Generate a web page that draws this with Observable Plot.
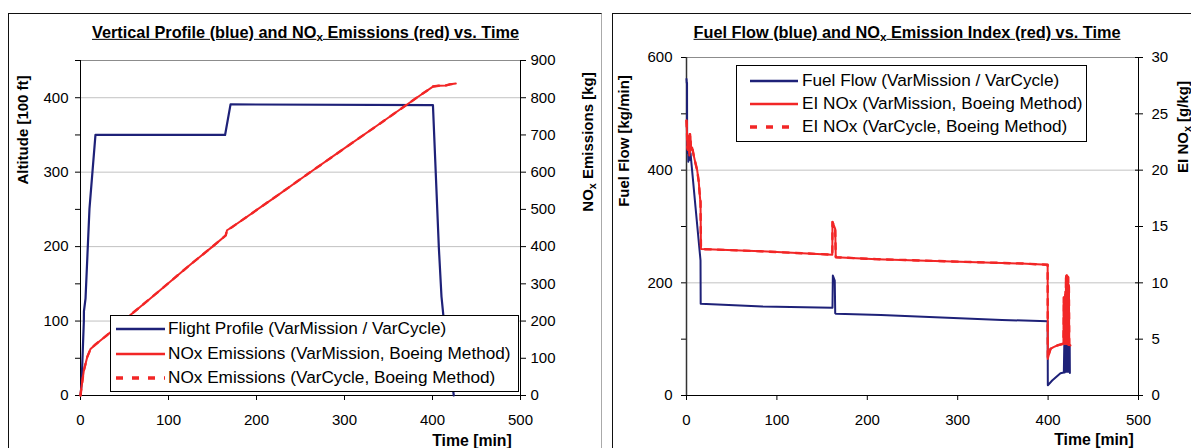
<!DOCTYPE html>
<html><head><meta charset="utf-8">
<script src="https://cdn.jsdelivr.net/npm/d3@7"></script>
<script src="https://cdn.jsdelivr.net/npm/@observablehq/plot@0.6"></script>
<style>
html,body{margin:0;padding:0;background:#fff;}
body{width:1191px;height:448px;overflow:hidden;position:relative;font-family:Arial,"Liberation Sans",Helvetica,sans-serif;}
.frame{position:absolute;border:1px solid #111;box-sizing:border-box;}
.sub{font-size:72%;position:relative;top:0.28em;}
.lg{position:absolute;border:1px solid #000;background:#fff;box-sizing:border-box;}
</style></head><body>
<script>
// ---------- DATA ----------
const timeTicks = [0, 100, 200, 300, 400, 500];
const altTickMarks = [0, 50, 100, 150, 200, 250, 300, 350, 400, 450];
const altTickLabels = [0, 100, 200, 300, 400];
const noxTicks = [0, 100, 200, 300, 400, 500, 600, 700, 800, 900];
const ffTickMarks = [0, 100, 200, 300, 400, 500, 600];
const ffTickLabels = [0, 200, 400, 600];
const eiTicks = [0, 5, 10, 15, 20, 25, 30];

// Left panel: flight profile (altitude, 100 ft) vs time (min)
const profileTime = [0, 1.2, 3.8, 3.9, 5.7, 10.2, 17, 164.3, 170.5, 400.5, 407.2, 410.2, 412.3, 424.2];
const profileAlt  = [0, 15, 100, 113, 130, 251, 350, 350, 391, 390, 199, 133, 108, 0];

// Left panel: cumulative NOx emissions (kg) vs time (min)
const noxTimeMission = [0, 1.1, 3.8, 7.6, 11.4, 17, 30, 57, 79, 125, 150, 165, 166.5, 172, 220, 257, 292, 340, 382, 400.5, 407, 415, 420, 426.5];
const noxKgMission   = [0, 22, 67, 103, 125, 137, 162, 217, 260, 352, 400, 430, 444, 452, 531, 593, 651, 730, 800, 830, 832, 833, 836, 838];
const noxTimeCycle = noxTimeMission;
const noxKgCycle   = noxKgMission;

// Right panel: fuel flow (kg/min) vs time (min)
const ffTime = [0, 0.3, 0.6, 0.7, 1.2, 1.6, 2.0, 2.5, 3.0, 3.5, 4.0, 4.5, 5.2, 10, 15.5, 15.7, 84, 161.5, 161.9, 164, 164.5, 165.5, 215, 349, 399.5, 399.7, 404.5, 413.7, 417.4,
  417.9, 418.4, 418.9, 419.4, 419.9, 420.4, 420.9, 421.4, 421.9, 422.4, 422.9, 423.4, 423.9, 424.1];
const ffValue = [562, 555, 555, 450, 430, 455, 415, 440, 420, 445, 418, 430, 417, 334, 240, 163, 158, 155.6, 213, 204, 146, 145, 143, 134, 132, 18, 26.6, 39.6, 41,
  89, 41, 89, 42, 89, 42, 89, 42, 89, 42, 89, 42, 89, 40];

// Right panel: NOx emission index (g/kg) vs time (min)
const eiTimeMission = [0, 0.5, 1, 1.5, 2, 2.6, 3.2, 3.8, 4.4, 5, 6.3, 8, 10, 11.8, 13.5, 15, 15.5, 16, 82, 161.3, 161.5, 164.5, 165.1, 165.5, 210, 376, 399.5, 399.7, 401, 402.7, 406, 410, 417,
  417.4, 417.8, 418.2, 418.6, 419.0, 419.4, 419.8, 420.2, 420.6, 421.0, 421.4, 421.8, 422.2, 422.6, 423.0, 423.4, 424.7];
const eiValueMission = [24.4, 23.5, 22, 21.8, 22.9, 23, 21.3, 23.2, 23, 21.8, 22, 21.3, 20.6, 20, 19, 17.5, 17.2, 13.0, 12.8, 12.5, 15.4, 14.8, 12.3, 12.27, 12.1, 11.7, 11.6, 3.25, 3.7, 4.14, 4.3, 4.44, 4.6,
  8.7, 4.6, 8.7, 4.6, 9.2, 4.6, 10.6, 4.6, 10.65, 4.6, 10.6, 4.6, 10.5, 4.5, 9.8, 4.5, 4.44];
const eiTimeCycle = eiTimeMission;
const eiValueCycle = eiValueMission;

// ---------- helpers ----------
const BLUE = "#1e2178", RED = "#f22626";
const FONT = "Arial, 'Liberation Sans', Helvetica, sans-serif";
const rows = (ts, vs) => ts.map((t, i) => ({t, v: vs[i]}));
const baseStyle = {fontFamily: FONT, fontSize: "15px", color: "#000", background: "none", overflow: "visible"};

function place(el, left, top) {
  const d = document.createElement("div");
  d.style.cssText = `position:absolute;left:${left}px;top:${top}px;`;
  d.appendChild(el);
  document.body.appendChild(d);
}
function frame(left, top, w, h, extra = "") {
  const d = document.createElement("div");
  d.className = "frame";
  d.style.cssText += `left:${left}px;top:${top}px;width:${w}px;height:${h}px;${extra}`;
  document.body.appendChild(d);
}
function label(html, cx, cy, {size = 15, bold = true, rotate = false, underline = false} = {}) {
  const d = document.createElement("div");
  d.innerHTML = html;
  d.style.cssText = `position:absolute;left:${cx}px;top:${cy}px;white-space:nowrap;font-family:${FONT};font-size:${size}px;font-weight:${bold ? "bold" : "normal"};line-height:1;transform:translate(-50%,-50%)${rotate ? " rotate(-90deg)" : ""};${underline ? "text-decoration:underline;" : ""}color:#000;`;
  document.body.appendChild(d);
}
function legend(left, top, w, h, items, size) {
  const box = document.createElement("div");
  box.className = "lg";
  box.style.cssText += `left:${left}px;top:${top}px;width:${w}px;height:${h}px;`;
  for (const it of items) {
    const svg = document.createElementNS("http://www.w3.org/2000/svg", "svg");
    svg.setAttribute("width", it.x2 - it.x1 + 4);
    svg.setAttribute("height", 10);
    svg.style.cssText = `position:absolute;left:${it.x1 - left - 2}px;top:${it.y - top - 5}px;`;
    const ln = document.createElementNS("http://www.w3.org/2000/svg", "line");
    ln.setAttribute("x1", 2); ln.setAttribute("x2", it.x2 - it.x1 + 2);
    ln.setAttribute("y1", 5); ln.setAttribute("y2", 5);
    ln.setAttribute("stroke", it.color);
    ln.setAttribute("stroke-width", it.width);
    if (it.dash) ln.setAttribute("stroke-dasharray", it.dash);
    svg.appendChild(ln);
    box.appendChild(svg);
    const t = document.createElement("div");
    t.textContent = it.text;
    t.style.cssText = `position:absolute;left:${it.tx - left - 1}px;top:${it.y - top}px;transform:translateY(-50%);white-space:nowrap;font-family:${FONT};font-size:${size}px;line-height:1;color:#000;`;
    box.appendChild(t);
  }
  document.body.appendChild(box);
}

// ---------- panel frames ----------
frame(8, 13, 594, 500, "border-right-color:#aaa;");
frame(612, 13, 620, 500);

// ---------- LEFT PANEL ----------
const L = {width: 605, height: 448, marginLeft: 80, marginRight: 85, marginTop: 60, marginBottom: 53};
const leftBase = Plot.plot({
  ...L,
  x: {domain: [0, 500], label: null},
  y: {domain: [0, 450], label: null},
  style: baseStyle,
  marks: [
    Plot.ruleY(altTickLabels.filter(d => d > 0), {stroke: "#c2c2c2", strokeWidth: 1}),
    Plot.ruleY([450], {stroke: "#8c8c8c"}),
    Plot.axisY(altTickMarks, {tickSize: 5, tickPadding: 7, label: null, tickFormat: d => altTickLabels.includes(d) ? String(d) : ""}),
    Plot.axisX(timeTicks, {tickSize: 5, tickPadding: 14, label: null}),
    Plot.ruleX([0], {stroke: "#000"}),
    Plot.ruleY([0], {stroke: "#000"}),
    Plot.line(rows(profileTime, profileAlt), {x: "t", y: "v", stroke: BLUE, strokeWidth: 2.2})
  ]
});
place(leftBase, 0, 0);

const leftOver = Plot.plot({
  ...L,
  x: {domain: [0, 500], axis: null, label: null},
  y: {domain: [0, 900], label: null},
  style: baseStyle,
  marks: [
    Plot.axisY(noxTicks, {anchor: "right", tickSize: 5, tickPadding: 5, label: null}),
    Plot.ruleX([500], {stroke: "#000"}),
    Plot.line(rows(noxTimeMission, noxKgMission), {x: "t", y: "v", stroke: RED, strokeWidth: 2}),
    Plot.line(rows(noxTimeCycle, noxKgCycle), {x: "t", y: "v", stroke: RED, strokeWidth: 2.4, strokeDasharray: "6,7"})
  ]
});
place(leftOver, 0, 0);

// ---------- RIGHT PANEL ----------
const R = {width: 586, height: 448, marginLeft: 81, marginRight: 53, marginTop: 57, marginBottom: 53};
const rightBase = Plot.plot({
  ...R,
  x: {domain: [0, 500], label: null},
  y: {domain: [0, 600], label: null},
  style: baseStyle,
  marks: [
    Plot.ruleY(ffTickLabels.filter(d => d > 0 && d < 600), {stroke: "#c2c2c2", strokeWidth: 1}),
    Plot.ruleY([600], {stroke: "#8c8c8c"}),
    Plot.axisY(ffTickMarks, {tickSize: 5, tickPadding: 9, label: null, tickFormat: d => ffTickLabels.includes(d) ? String(d) : ""}),
    Plot.axisX(timeTicks, {tickSize: 5, tickPadding: 14, label: null}),
    Plot.ruleX([0], {stroke: "#333", strokeWidth: 1.5}),
    Plot.ruleY([0], {stroke: "#000"}),
    Plot.line(rows(ffTime, ffValue), {x: "t", y: "v", stroke: BLUE, strokeWidth: 2})
  ]
});
place(rightBase, 605, 0);

const rightOver = Plot.plot({
  ...R,
  x: {domain: [0, 500], axis: null, label: null},
  y: {domain: [0, 30], label: null},
  style: baseStyle,
  marks: [
    Plot.axisY(eiTicks, {anchor: "right", tickSize: 8, dx: -4, tickPadding: 9, label: null}),
    Plot.ruleX([500], {stroke: "#000"}),
    Plot.line(rows(eiTimeMission, eiValueMission), {x: "t", y: "v", stroke: RED, strokeWidth: 2}),
    Plot.line(rows(eiTimeCycle, eiValueCycle), {x: "t", y: "v", stroke: RED, strokeWidth: 2.4, strokeDasharray: "6,7"})
  ]
});
place(rightOver, 605, 0);

// ---------- titles & axis titles ----------
label('Vertical Profile (blue) and NO<span class="sub">x</span> Emissions (red) vs. Time', 305.5, 32, {size: 16.3, underline: true});
label('Fuel Flow (blue) and NO<span class="sub">x</span> Emission Index (red) vs. Time', 907, 32, {size: 16.3, underline: true});
label('Altitude [100 ft]', 22, 130, {size: 15, rotate: true});
label('NO<span class="sub">x</span> Emissions [kg]', 587, 142, {size: 15, rotate: true});
label('Fuel Flow [kg/min]', 623, 141, {size: 15, rotate: true});
label('EI NO<span class="sub">x</span> [g/kg]', 1182, 127, {size: 15, rotate: true});
label('Time [min]', 472, 441, {size: 15.8});
label('Time [min]', 1094, 440, {size: 15.8});

// ---------- legends ----------
legend(110, 315, 409, 77, [
  {x1: 115, x2: 164, tx: 168, y: 328, color: BLUE, width: 2.6, text: "Flight Profile (VarMission / VarCycle)"},
  {x1: 115, x2: 164, tx: 168, y: 353, color: RED, width: 2.4, text: "NOx Emissions (VarMission, Boeing Method)"},
  {x1: 115, x2: 164, tx: 168, y: 377, color: RED, width: 3.4, dash: "7,9", text: "NOx Emissions (VarCycle, Boeing Method)"}
], 17.2);
legend(736, 65, 351, 77, [
  {x1: 749, x2: 797, tx: 802, y: 80, color: BLUE, width: 2.6, text: "Fuel Flow (VarMission / VarCycle)"},
  {x1: 749, x2: 797, tx: 802, y: 103, color: RED, width: 2.4, text: "EI NOx (VarMission, Boeing Method)"},
  {x1: 749, x2: 797, tx: 802, y: 126, color: RED, width: 3.4, dash: "7,9", text: "EI NOx (VarCycle, Boeing Method)"}
], 17.2);
</script>
</body></html>
